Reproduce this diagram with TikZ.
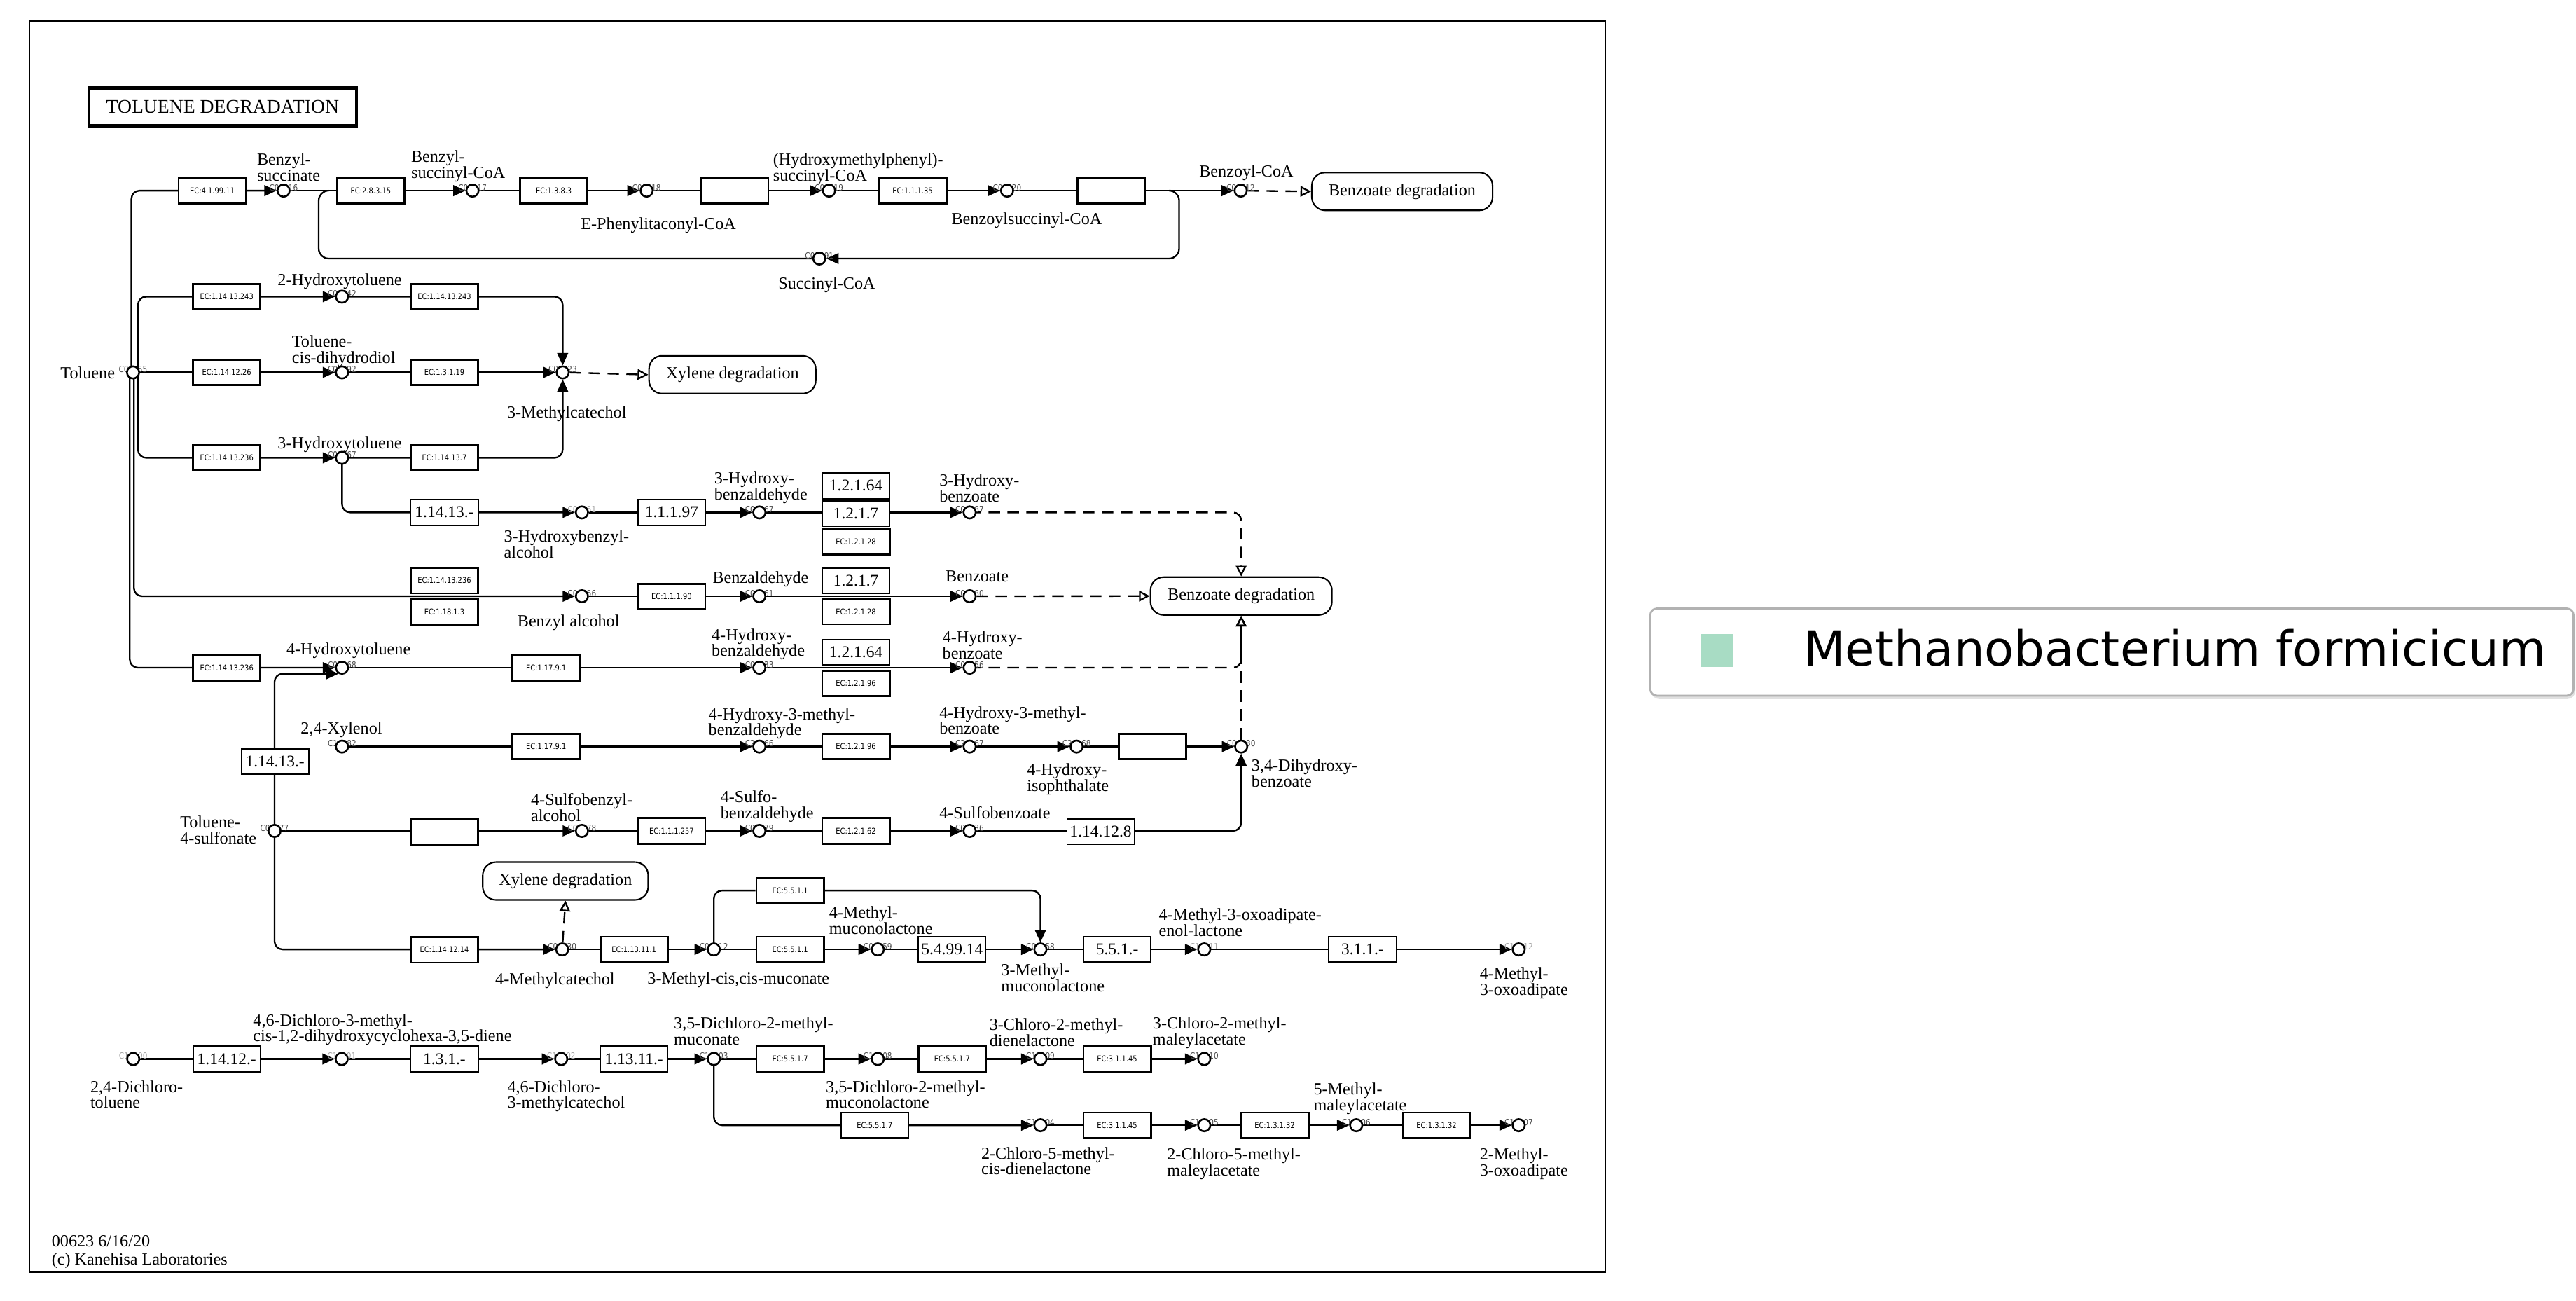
\documentclass[tikz,border=0pt]{standalone}
\usepackage{fontspec}
\setmainfont{Liberation Serif}
\newfontfamily\ecf{DejaVu Sans}[FakeStretch=0.86]
\newfontfamily\lgf{DejaVu Sans}
\usetikzlibrary{arrows.meta,backgrounds}
\definecolor{mfgreen}{RGB}{168,220,196}
\newcommand\cpdnode[5]{%
  \node[cid,text=#5] (#1id) at (#2,#3-1.8) {#4};
  \node[cpd] (#1) at (#2,#3) {};}
\newcommand\lb[4]{\node[lab] (#1) at (#2,#3) {#4};}
\begin{document}
\begin{tikzpicture}[x=1pt,y=-1pt,
 cpd/.style={circle,draw,line width=1.1pt,fill=white,minimum size=7.4pt,inner sep=0pt},
 cid/.style={font=\ecf\fontsize{5.2}{5.2}\selectfont,inner sep=0pt},
 ec/.style={draw,line width=1.2pt,fill=white,minimum width=41pt,minimum height=15.5pt,inner sep=0pt,font=\ecf\fontsize{4.9}{5}\selectfont},
 ecn/.style={draw,line width=0.8pt,fill=white,minimum width=41pt,minimum height=15.5pt,inner sep=0pt,font=\fontsize{10}{10}\selectfont},
 mapbox/.style={draw,line width=0.9pt,rounded corners=8pt,fill=white,minimum height=23pt,inner sep=0pt,font=\fontsize{10.3}{10}\selectfont},
 lab/.style={anchor=north west,inner sep=0pt,align=left,font=\fontsize{10.3}{9.7}\selectfont},
 rx/.style={line width=1pt},
 ar/.style={rx,-{Triangle[length=7.5pt,width=6.6pt]}},
 dsh/.style={line width=1pt,dash pattern=on 7pt off 4.5pt,-{Triangle[open,length=6.5pt,width=6.5pt]}},
 rc/.style={rounded corners=5pt}]
\begin{pgfonlayer}{background}
\fill[white] (0,0) rectangle (1568,791.67);
\end{pgfonlayer}
\useasboundingbox (0,0) rectangle (1568,791.67);
% frame and title
\draw[line width=1pt] (18,13) rectangle (977,774);
\node[draw,line width=1.8pt,minimum width=163pt,minimum height=23pt,inner sep=0pt,font=\fontsize{11.8}{12}\selectfont] (title) at (135.5,65) {TOLUENE DEGRADATION};
% compounds
\cpdnode{c09816}{172.6}{116}{C09816}{black!70}
\cpdnode{c09817}{287.6}{116}{C09817}{black!70}
\cpdnode{c09818}{393.6}{116}{C09818}{black!70}
\cpdnode{c09819}{504.6}{116}{C09819}{black!70}
\cpdnode{c09820}{613}{116}{C09820}{black!70}
\cpdnode{c00512}{755.2}{116}{C00512}{black!70}
\cpdnode{c00091}{498.7}{157.3}{C00091}{black!70}
\cpdnode{tol}{81}{226.6}{C07455}{black!70}
\cpdnode{c01542}{208.2}{180.5}{C01542}{black!70}
\cpdnode{c04592}{208.2}{226.6}{C04592}{black!70}
\cpdnode{c02923}{342.5}{226.6}{C02923}{black!70}
\cpdnode{c01467}{208.2}{278.6}{C01467}{black!70}
\cpdnode{c03351}{354.2}{311.8}{C03351}{black!35}
\cpdnode{c03067}{462.2}{311.8}{C03067}{black!70}
\cpdnode{c00587}{590.2}{311.8}{C00587}{black!70}
\cpdnode{c00556}{354.2}{362.8}{C00556}{black!70}
\cpdnode{c00261}{462.2}{362.8}{C00261}{black!70}
\cpdnode{c00180}{590.2}{362.8}{C00180}{black!70}
\cpdnode{c01468}{208.2}{406.3}{C01468}{black!70}
\cpdnode{c00633}{462.2}{406.3}{C00633}{black!70}
\cpdnode{c00156}{590.2}{406.3}{C00156}{black!70}
\cpdnode{c14582}{208.2}{454.3}{C14582}{black!70}
\cpdnode{c21166}{462.2}{454.3}{C21166}{black!70}
\cpdnode{c21167}{590.2}{454.3}{C21167}{black!70}
\cpdnode{c21168}{655.3}{454.3}{C21168}{black!70}
\cpdnode{c00230}{755.5}{454.3}{C00230}{black!70}
\cpdnode{c06677}{167.1}{505.6}{C06677}{black!70}
\cpdnode{c06678}{354.2}{505.6}{C06678}{black!70}
\cpdnode{c06679}{462.2}{505.6}{C06679}{black!70}
\cpdnode{c02336}{590.2}{505.6}{C02336}{black!70}
\cpdnode{c06730}{342.2}{577.7}{C06730}{black!70}
\cpdnode{c04112}{434.5}{577.7}{C04112}{black!70}
\cpdnode{c04559}{534.3}{577.7}{C04559}{black!70}
\cpdnode{c04558}{633.3}{577.7}{C04558}{black!70}
\cpdnode{c16311}{733}{577.7}{C16311}{black!35}
\cpdnode{c16312}{924.4}{577.7}{C16312}{black!35}
\cpdnode{d00}{81.1}{644.4}{C16300}{black!35}
\cpdnode{d01}{208}{644.4}{C16301}{black!35}
\cpdnode{d02}{341.6}{644.4}{C16302}{black!35}
\cpdnode{d03}{434.5}{644.4}{C16303}{black!70}
\cpdnode{d08}{534.3}{644.4}{C16308}{black!70}
\cpdnode{d09}{633.3}{644.4}{C16309}{black!70}
\cpdnode{d10}{733}{644.4}{C16310}{black!70}
\cpdnode{d04}{633.3}{684.7}{C16304}{black!70}
\cpdnode{d05}{733}{684.7}{C16305}{black!70}
\cpdnode{d06}{825.5}{684.7}{C16306}{black!70}
\cpdnode{d07}{924.4}{684.7}{C16307}{black!70}
% enzyme boxes
\node[ec] (e1) at (129.2,116) {EC:4.1.99.11};
\node[ec] (e2) at (225.7,116) {EC:2.8.3.15};
\node[ec] (e3) at (337.1,116) {EC:1.3.8.3};
\node[ec] (e4) at (447.2,116) {};
\node[ec] (e5) at (555.5,116) {EC:1.1.1.35};
\node[ec] (e6) at (676.4,116) {};
\node[ec] (e7) at (138,180.5) {EC:1.14.13.243};
\node[ec] (e8) at (270.5,180.5) {EC:1.14.13.243};
\node[ec] (e9) at (138,226.6) {EC:1.14.12.26};
\node[ec] (e10) at (270.5,226.6) {EC:1.3.1.19};
\node[ec] (e11) at (138,278.6) {EC:1.14.13.236};
\node[ec] (e12) at (270.5,278.6) {EC:1.14.13.7};
\node[ecn] (e13) at (270.5,311.8) {1.14.13.-};
\node[ecn] (e14) at (408.8,311.8) {1.1.1.97};
\node[ecn] (e15) at (521,295.6) {1.2.1.64};
\node[ecn] (e16) at (521,312.6) {1.2.1.7};
\node[ec] (e17) at (521,329.8) {EC:1.2.1.28};
\node[ec] (e18) at (270.5,353.3) {EC:1.14.13.236};
\node[ec] (e19) at (270.5,372.2) {EC:1.18.1.3};
\node[ec] (e20) at (408.8,363) {EC:1.1.1.90};
\node[ecn] (e21) at (521,353.4) {1.2.1.7};
\node[ec] (e22) at (521,372.1) {EC:1.2.1.28};
\node[ec] (e23) at (138,406.3) {EC:1.14.13.236};
\node[ec] (e24) at (332.4,406.3) {EC:1.17.9.1};
\node[ecn] (e25) at (521,396.9) {1.2.1.64};
\node[ec] (e26) at (521,415.8) {EC:1.2.1.96};
\node[ecn] (e27) at (167.4,463.5) {1.14.13.-};
\node[ec] (e28) at (332.4,454.3) {EC:1.17.9.1};
\node[ec] (e29) at (521,454.3) {EC:1.2.1.96};
\node[ec] (e30) at (701.4,454.3) {};
\node[ec] (e31) at (270.5,506) {};
\node[ec] (e32) at (408.8,505.6) {EC:1.1.1.257};
\node[ec] (e33) at (521,505.6) {EC:1.2.1.62};
\node[ecn] (e34) at (670,506) {1.14.12.8};
\node[ec] (e35) at (270.5,578) {EC:1.14.12.14};
\node[ec] (e36) at (385.9,577.7) {EC:1.13.11.1};
\node[ec] (e37) at (480.9,577.7) {EC:5.5.1.1};
\node[ec] (e38) at (480.9,541.9) {EC:5.5.1.1};
\node[ecn] (e39) at (579.5,577.7) {5.4.99.14};
\node[ecn] (e40) at (680,577.7) {5.5.1.-};
\node[ecn] (e41) at (829.4,577.7) {3.1.1.-};
\node[ecn] (e42) at (138,644.4) {1.14.12.-};
\node[ecn] (e43) at (270.5,644.4) {1.3.1.-};
\node[ecn] (e44) at (385.9,644.4) {1.13.11.-};
\node[ec] (e45) at (480.9,644.4) {EC:5.5.1.7};
\node[ec] (e46) at (579.5,644.4) {EC:5.5.1.7};
\node[ec] (e47) at (680,644.4) {EC:3.1.1.45};
\node[ec] (e48) at (532.4,684.7) {EC:5.5.1.7};
\node[ec] (e49) at (680,684.7) {EC:3.1.1.45};
\node[ec] (e50) at (775.9,684.7) {EC:1.3.1.32};
\node[ec] (e51) at (874.4,684.7) {EC:1.3.1.32};
% pathway maps
\node[mapbox,minimum width=110pt] (bzdeg1) at (853.5,116.5) {Benzoate degradation};
\node[mapbox,minimum width=101.5pt] (xyl1) at (445.8,228) {Xylene degradation};
\node[mapbox,minimum width=110.4pt] (bzdeg2) at (755.5,362.7) {Benzoate degradation};
\node[mapbox,minimum width=100.7pt] (xyl2) at (344.2,536.1) {Xylene degradation};
% junction coordinates
\coordinate (j1) at (200,116);
\coordinate (j1c) at (194,116);
\coordinate (j2) at (712.5,116);
\coordinate (j2c) at (717.7,116);
% connectors
\begin{pgfonlayer}{background}
\draw[ar,rc] ([xshift=-1pt]tol.center) |- (c09816.west);
\draw[ar] (c09816) -- (c09817);
\draw[ar] (c09817) -- (c09818);
\draw[ar] (c09818) -- (c09819);
\draw[ar] (c09819) -- (c09820);
\draw[ar] (c09820) -- (c00512);
\draw[dsh] (c00512) -- (bzdeg1.west);
\draw[rx,rounded corners=6pt] (j1) -- (j1c) |- (c00091.west);
\draw[ar,rounded corners=6pt] (j2) -- (j2c) |- (c00091.east);
\draw[ar,rc] ([xshift=3pt]tol.center) |- (c01542.west);
\draw[ar,rc] (c01542.center) -| (c02923.north);
\draw[ar] (tol) -- (c04592);
\draw[ar] (c04592) -- (c02923);
\draw[dsh] (c02923) -- (xyl1.west);
\draw[ar,rc] ([xshift=3pt]tol.center) |- (c01467.west);
\draw[ar,rc] (c01467.center) -| (c02923.south);
\draw[ar,rc] (c01467.center) |- (c03351.west);
\draw[ar] (c03351) -- (c03067);
\draw[ar] (c03067) -- (c00587);
\draw[dsh,rc] (c00587.center) -| (bzdeg2.north);
\draw[ar,rc] ([xshift=0.5pt]tol.center) |- (c00556.west);
\draw[ar] (c00556) -- (c00261);
\draw[ar] (c00261) -- (c00180);
\draw[dsh] (c00180) -- (bzdeg2.west);
\draw[ar,rc] ([xshift=-2pt]tol.center) |- (c01468.west);
\draw[ar] (c01468) -- (c00633);
\draw[ar] (c00633) -- (c00156);
\draw[dsh,rc] (c00156.center) -| (bzdeg2.south);
\draw[dsh] (c00230) -- (bzdeg2.south);
\draw[ar,rc] (c06677.center) |- (c01468.240);
\draw[ar] (c14582) -- (c21166);
\draw[ar] (c21166) -- (c21167);
\draw[ar] (c21167) -- (c21168);
\draw[ar] (c21168) -- (c00230);
\draw[ar] (c06677) -- (c06678);
\draw[ar] (c06678) -- (c06679);
\draw[ar] (c06679) -- (c02336);
\draw[ar,rc] (c02336.center) -| (c00230.south);
\draw[ar,rc] (c06677.center) |- (c06730.west);
\draw[dsh] (c06730) -- (xyl2.south);
\draw[ar] (c06730) -- (c04112);
\draw[ar] (c04112) -- (c04559);
\draw[ar] (c04559) -- (c04558);
\draw[ar] (c04558) -- (c16311);
\draw[ar] (c16311) -- (c16312);
\draw[ar,rc] (c04112.center) |- (e38) -| (c04558.north);
\draw[ar] (d00) -- (d01);
\draw[ar] (d01) -- (d02);
\draw[ar] (d02) -- (d03);
\draw[ar] (d03) -- (d08);
\draw[ar] (d08) -- (d09);
\draw[ar] (d09) -- (d10);
\draw[ar,rc] (d03.center) |- (d04.west);
\draw[ar] (d04) -- (d05);
\draw[ar] (d05) -- (d06);
\draw[ar] (d06) -- (d07);
\end{pgfonlayer}
% labels
\lb{l1}{156.3}{93}{Benzyl-\\succinate}
\lb{l2}{250.1}{91.3}{Benzyl-\\succinyl-CoA}
\lb{l3}{353.4}{132.1}{E-Phenylitaconyl-CoA}
\lb{l4}{470.4}{93.1}{(Hydroxymethylphenyl)-\\succinyl-CoA}
\lb{l5}{579}{129.1}{Benzoylsuccinyl-CoA}
\lb{l6}{729.8}{100.2}{Benzoyl-CoA}
\lb{l7}{473.6}{168.7}{Succinyl-CoA}
\lb{l8}{168.8}{166.3}{2-Hydroxytoluene}
\lb{l9}{177.5}{204}{Toluene-\\cis-dihydrodiol}
\node[lab,anchor=north east] (l10) at (70.1,223.1) {Toluene};
\lb{l11}{308.5}{247.1}{3-Methylcatechol}
\lb{l12}{168.8}{265.8}{3-Hydroxytoluene}
\lb{l13}{306.6}{322.5}{3-Hydroxybenzyl-\\alcohol}
\lb{l14}{314.8}{373.9}{Benzyl alcohol}
\lb{l15}{174.2}{391}{4-Hydroxytoluene}
\lb{l16}{182.9}{439.1}{2,4-Xylenol}
\lb{l17}{109.5}{496.3}{Toluene-\\4-sulfonate}
\lb{l18}{323}{482.5}{4-Sulfobenzyl-\\alcohol}
\lb{l19}{434.6}{287}{3-Hydroxy-\\benzaldehyde}
\lb{l20}{571.6}{288.5}{3-Hydroxy-\\benzoate}
\lb{l21}{433.6}{347.7}{Benzaldehyde}
\lb{l22}{575.4}{346.9}{Benzoate}
\lb{l23}{433}{382.4}{4-Hydroxy-\\benzaldehyde}
\lb{l24}{573.5}{384}{4-Hydroxy-\\benzoate}
\lb{l25}{431.1}{430.5}{4-Hydroxy-3-methyl-\\benzaldehyde}
\lb{l26}{571.6}{429.7}{4-Hydroxy-3-methyl-\\benzoate}
\lb{l27}{624.9}{464.4}{4-Hydroxy-\\isophthalate}
\lb{l28}{438.4}{481}{4-Sulfo-\\benzaldehyde}
\lb{l29}{571.6}{490.5}{4-Sulfobenzoate}
\lb{l30}{761.6}{462}{3,4-Dihydroxy-\\benzoate}
\lb{l31}{301.3}{591.9}{4-Methylcatechol}
\lb{l32}{393.9}{591.2}{3-Methyl-cis,cis-muconate}
\lb{l33}{504.5}{551.4}{4-Methyl-\\muconolactone}
\lb{l34}{609.2}{586.2}{3-Methyl-\\muconolactone}
\lb{l35}{705.2}{552.8}{4-Methyl-3-oxoadipate-\\enol-lactone}
\lb{l36}{900.5}{588.4}{4-Methyl-\\3-oxoadipate}
\lb{l37}{54.8}{657.3}{2,4-Dichloro-\\toluene}
\lb{l38}{153.9}{616.8}{4,6-Dichloro-3-methyl-\\cis-1,2-dihydroxycyclohexa-3,5-diene}
\lb{l39}{308.7}{657.3}{4,6-Dichloro-\\3-methylcatechol}
\lb{l40}{410}{618.9}{3,5-Dichloro-2-methyl-\\muconate}
\lb{l41}{502.5}{657.3}{3,5-Dichloro-2-methyl-\\muconolactone}
\lb{l42}{602.1}{619.5}{3-Chloro-2-methyl-\\dienelactone}
\lb{l43}{597.1}{697.8}{2-Chloro-5-methyl-\\cis-dienelactone}
\lb{l44}{701.5}{618.9}{3-Chloro-2-methyl-\\maleylacetate}
\lb{l45}{710.2}{698.5}{2-Chloro-5-methyl-\\maleylacetate}
\lb{l46}{799.4}{658.7}{5-Methyl-\\maleylacetate}
\lb{l47}{900.5}{698.5}{2-Methyl-\\3-oxoadipate}
\node[lab,font=\fontsize{10.3}{11}\selectfont] (foot) at (31.3,751.5) {00623 6/16/20\\(c) Kanehisa Laboratories};
% legend
\fill[black!12,rounded corners=5pt] (1005,372.2) rectangle (1567.6,425.4);
\node[draw=black!30,line width=1.2pt,rounded corners=4pt,fill=white,minimum width=562pt,minimum height=53pt,inner sep=0pt] (legend) at (1285.5,396.8) {};
\node[fill=mfgreen,minimum width=19.7pt,minimum height=19.9pt,inner sep=0pt] (lgsq) at (1044.8,395.7) {};
\node[anchor=base west,inner sep=0pt,font=\lgf\fontsize{29.4}{30}\selectfont] (lgtxt) at (1097.6,405) {Methanobacterium formicicum};
\end{tikzpicture}
\end{document}
